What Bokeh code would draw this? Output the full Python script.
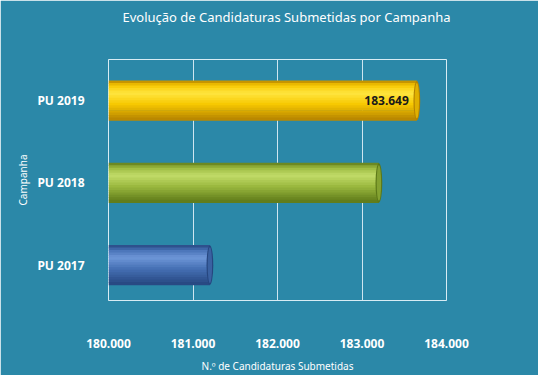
from bokeh.plotting import figure
from bokeh.models import Range1d, FixedTicker, CustomJSTickFormatter, Title
from bokeh.embed import file_html
from bokeh.resources import INLINE
from bokeh.core.properties import value

# ---- data ----
campaigns = ["PU 2017", "PU 2018", "PU 2019"]
submissions = [181200, 183200, 183649]
x_ticks = [180000, 181000, 182000, 183000, 184000]

# ---- styles ----
BG = "#2b88a8"
base_colors = ["#4570b4", "#9ab83e", "#f7c800"]
light_colors = ["#6f97d8", "#c2dc6a", "#ffe640"]
dark_colors = ["#26467f", "#5c7818", "#b58300"]
FONT = "Noto Sans"


def hex2rgb(h):
    h = h.lstrip("#")
    return [int(h[i:i + 2], 16) for i in (0, 2, 4)]


def mix(a, b, t):
    ra, rb = hex2rgb(a), hex2rgb(b)
    return "#%02x%02x%02x" % tuple(int(round(x + (y - x) * t)) for x, y in zip(ra, rb))


def shade(i, t):
    # t: 0 top edge -> 1 bottom edge
    d, b, l = dark_colors[i], base_colors[i], light_colors[i]
    stops = [(0.0, d), (0.12, b), (0.32, l), (0.6, b), (1.0, d)]
    for (t0, c0), (t1, c1) in zip(stops[:-1], stops[1:]):
        if t <= t1:
            return mix(c0, c1, (t - t0) / (t1 - t0))
    return d


pos = list(range(len(campaigns)))
start = x_ticks[0]

p = figure(width=538, height=375,
           x_range=Range1d(x_ticks[0], x_ticks[-1]),
           y_range=Range1d(-0.43, 2.50),
           output_backend="svg", toolbar_location=None,
           background_fill_color=BG, border_fill_color=BG,
           outline_line_color="#d8ecf4", outline_line_width=1,
           min_border_left=108, min_border_right=92,
           min_border_top=58, min_border_bottom=72)

p.title.text = "Evolução de Candidaturas Submetidas por Campanha"
p.title.text_color = "white"
p.title.text_font = FONT
p.title.text_font_size = "13px"
p.title.text_font_style = "normal"
p.title.align = "left"
p.title.offset = 14
# spacer between title and plot area
p.add_layout(Title(text=" ", text_font_size="16px"), "above")

# grid
p.xgrid.ticker = FixedTicker(ticks=x_ticks)
p.xgrid.grid_line_color = "#cfe6f0"
p.xgrid.grid_line_width = 1
p.ygrid.grid_line_color = None

# cylinder-like bars (stacked thin bands as a vertical gradient)
H = 0.48
N = 16
for i in range(len(campaigns)):
    ys, cols = [], []
    for k in range(N):
        t = (k + 0.5) / N
        ys.append(pos[i] + H / 2 - t * H)
        cols.append(shade(i, t))
    p.hbar(y=ys, left=start, right=[submissions[i]] * N, height=H / N * 1.3,
           fill_color=cols, line_color=None)
    # right end cap
    p.ellipse(x=[submissions[i]], y=[pos[i]], width=80, height=H,
              fill_color=dark_colors[i], line_color=None)
    p.ellipse(x=[submissions[i]], y=[pos[i]], width=52, height=H * 0.9,
              fill_color=mix(base_colors[i], dark_colors[i], 0.35), line_color=None)

# data label on last bar
p.text(x=[submissions[-1]], y=[pos[-1]], text=[f"{submissions[-1] / 1000:.3f}"],
       text_align="right", text_baseline="middle", x_offset=-8,
       text_color="#1a1a1a", text_font=value(FONT), text_font_size="12px",
       text_font_style="bold")

# x axis
xa = p.xaxis[0]
xa.ticker = FixedTicker(ticks=x_ticks)
xa.formatter = CustomJSTickFormatter(code="return (tick/1000).toFixed(3);")
xa.major_label_standoff = 32
xa.major_tick_line_color = None
xa.minor_tick_line_color = None
xa.axis_line_color = None
xa.major_label_text_color = "white"
xa.major_label_text_font = FONT
xa.major_label_text_font_size = "12px"
xa.major_label_text_font_style = "bold"
xa.axis_label = "N.º de Candidaturas Submetidas"
xa.axis_label_text_color = "white"
xa.axis_label_text_font = FONT
xa.axis_label_text_font_size = "10px"
xa.axis_label_text_font_style = "normal"
xa.axis_label_standoff = 8

# y axis
ya = p.yaxis[0]
ya.ticker = FixedTicker(ticks=pos)
ya.major_label_overrides = {i: c for i, c in zip(pos, campaigns)}
ya.major_label_standoff = 18
ya.major_tick_line_color = None
ya.minor_tick_line_color = None
ya.axis_line_color = None
ya.major_label_text_color = "white"
ya.major_label_text_font = FONT
ya.major_label_text_font_size = "12px"
ya.major_label_text_font_style = "bold"
ya.axis_label = "Campanha"
ya.axis_label_text_color = "white"
ya.axis_label_text_font = FONT
ya.axis_label_text_font_size = "10px"
ya.axis_label_text_font_style = "normal"
ya.axis_label_standoff = 4

open("out.html", "w").write(file_html(p, INLINE))
